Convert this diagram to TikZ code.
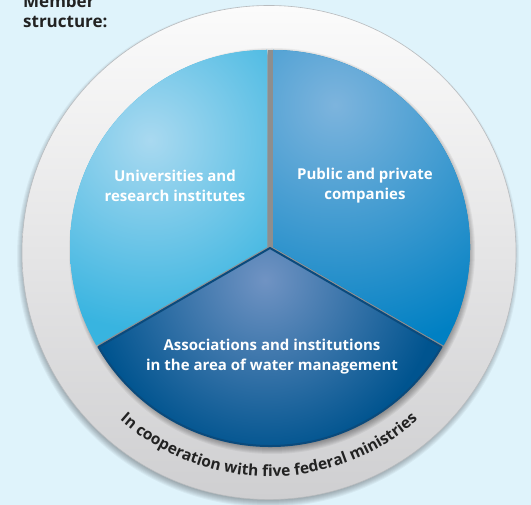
\documentclass[tikz,border=0pt]{standalone}
\usepackage{fontspec}
\setmainfont{Open Sans}
\usetikzlibrary{decorations.text}
\definecolor{bg}{HTML}{DFF3FB}
\definecolor{ringtop}{HTML}{FBFBFB}
\definecolor{ringbot}{HTML}{CFCFD1}
\definecolor{ringedge}{HTML}{B9BCBF}
\definecolor{gapgray}{HTML}{8E8E8E}
\definecolor{lin}{HTML}{A9D9F0}
\definecolor{lout}{HTML}{38B4E0}
\definecolor{rin}{HTML}{7DB4DD}
\definecolor{rout}{HTML}{0080C3}
\definecolor{bin}{HTML}{7093C3}
\definecolor{bout}{HTML}{00548F}
\definecolor{rim}{HTML}{0A4A7C}
\definecolor{txtc}{HTML}{222222}
\tikzset{
  lab/.style={text=white, font=\fontsize{15}{20}\selectfont\bfseries, align=center, inner sep=0pt},
  title/.style={text=txtc, font=\fontsize{17}{20}\selectfont\bfseries, anchor=base west, inner sep=0pt}
}
\begin{document}
\begin{tikzpicture}[x=1pt,y=1pt]
\useasboundingbox (0,0) rectangle (531,505);
\fill[bg] (0,0) rectangle (531,505);
% title
\node[title] (t1) at (23,497) {Member};
\node[title] (t2) at (23,477) {structure:};
% ring shadow
\foreach \i in {0,...,7} \fill[black,opacity=0.045] (268,249) circle ({247+4-\i});
% ring
\shade[top color=ringtop, bottom color=ringbot] (269,252.5) circle (247);
\draw[ringedge, line width=0.6] (269,252.5) circle (247);
% pie shadow
\foreach \i in {0,...,7} \fill[black,opacity=0.05] (272,254) circle ({197+6-\i});
% gap
\fill[gapgray] (267.5,258) rectangle (272.5,455);
% left sector
\begin{scope}
\clip[shift={(267,258)}] (0,0) -- (90:197) arc (90:210:197) -- cycle;
\fill[lout] (60,150) rectangle (270,460);
\shade[inner color=lin, outer color=lout] (150,365) circle (190);
\end{scope}
% right sector
\begin{scope}
\clip[shift={(273,258)}] (0,0) -- (-30:197) arc (-30:90:197) -- cycle;
\fill[rout] (270,150) rectangle (480,460);
\shade[inner color=rin, outer color=rout] (335,400) circle (250);
\end{scope}
% bottom sector
\begin{scope}
\clip[shift={(270,257)}] (0,0) -- (210:198) arc (210:330:198) -- cycle;
\fill[bout] (90,50) rectangle (450,260);
\shade[inner color=bin, outer color=bout] (265,225) circle (175);
\end{scope}
\draw[rim, line width=2, line join=round, shift={(270,257)}] (0,0) -- (210:198) arc (210:330:198) -- cycle;
% labels
\node[lab] (uni) at (175,319) {Universities and\\research institutes};
\node[lab] (pub) at (365,319) {Public and private\\companies};
\node[lab] (ass) at (272,148) {Associations and institutions\\in the area of water management};
% curved text
\path[decorate, decoration={text along path, text align=center,
  text color=txtc,
  text={|\fontsize{15.5}{15.5}\selectfont\bfseries|In cooperation with five federal ministries}}]
  (269,252.5) ++(220:224) arc (220:320:224);
\end{tikzpicture}
\end{document}
